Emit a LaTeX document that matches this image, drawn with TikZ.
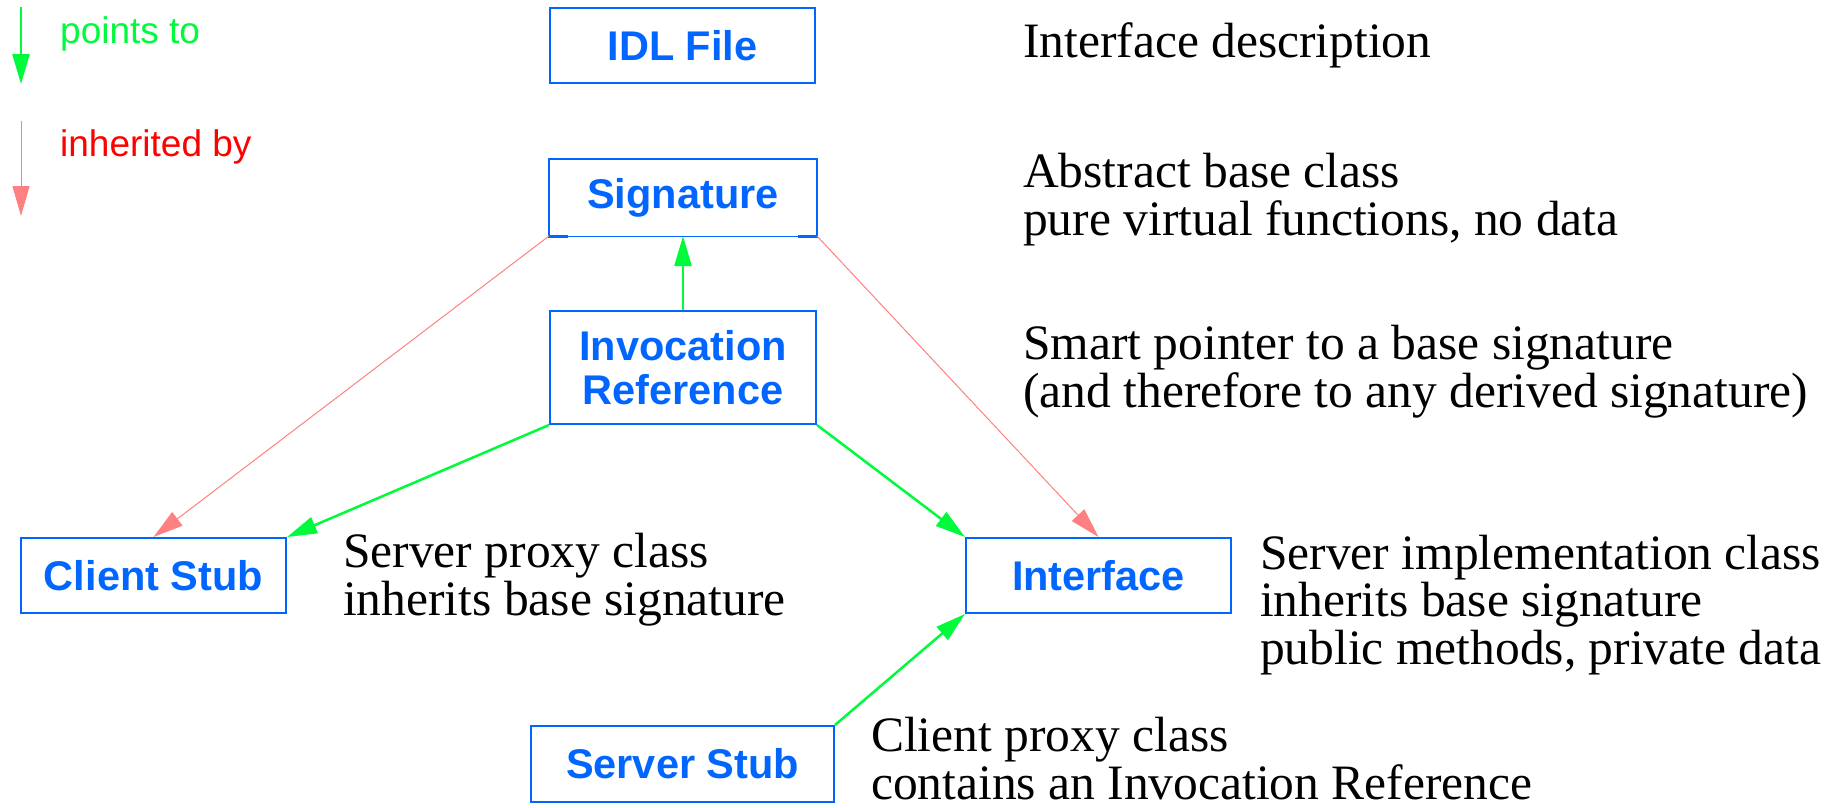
\documentclass[tikz,border=0pt]{standalone}
\usepackage{fontspec}
\setmainfont{Liberation Serif}
\newfontfamily\boxfont{Liberation Sans}
\usetikzlibrary{arrows.meta}
\definecolor{boxblue}{RGB}{0,102,255}
\definecolor{ptgreen}{RGB}{0,250,60}
\definecolor{inhred}{RGB}{255,128,128}
\definecolor{legred}{RGB}{255,0,0}
\tikzset{
  cls/.style={draw=boxblue, line width=2pt, text=boxblue, font=\boxfont\bfseries\fontsize{41.5}{45}\selectfont, align=center, inner sep=0pt},
  desc/.style={anchor=base west, inner sep=0pt, font=\fontsize{49.5}{47.5}\selectfont, align=left},
  ptarrow/.style={draw=ptgreen, line width=2.5pt, -{Triangle[length=30pt,width=17pt,fill=ptgreen]}},
  inharrow/.style={draw=inhred, line width=1pt, -{Triangle[length=30pt,width=17pt,fill=inhred]}},
  legtext/.style={anchor=base west, inner sep=0pt, font=\boxfont\fontsize{37}{40}\selectfont}
}
\begin{document}
\begin{tikzpicture}[x=1pt,y=-1pt]
\useasboundingbox (0,0) rectangle (1844,807);
% legend
\coordinate (g1) at (21,7);
\coordinate (g2) at (21,84);
\draw[ptarrow] (g1) -- (g2);
\node[legtext, text=ptgreen] (lg) at (60,43) {points to};
\coordinate (r1) at (21,121);
\coordinate (r2) at (21,216);
\draw[inharrow] (r1) -- (r2);
\node[legtext, text=legred] (lr) at (60,156) {inherited by};
% boxes
\node[cls, minimum width=265pt, minimum height=75pt] (idl) at (682.5,45.5) {IDL File};
\node[cls, draw=none, minimum width=266pt, minimum height=75pt] (sig) at (683,197.5) {Signature};
\draw[boxblue, line width=2pt] (sig.south west) -- (sig.north west) -- (sig.north east) -- (sig.south east);
\draw[boxblue, line width=3pt] ([xshift=-1pt]sig.south west) -- ++(20,0);
\draw[boxblue, line width=3pt] ([xshift=1pt]sig.south east) -- ++(-20,0);
\draw[boxblue, line width=1pt] (sig.south west) -- (sig.south east);
\node[cls, minimum width=266pt, minimum height=113pt, font=\boxfont\bfseries\fontsize{41.5}{44}\selectfont] (inv) at (683,367.5) {Invocation\\Reference};
\node[cls, minimum width=265pt, minimum height=75pt] (client) at (153.5,575.5) {Client Stub};
\node[cls, minimum width=265pt, minimum height=75pt] (iface) at (1098.5,575.5) {Interface};
\node[cls, minimum width=303pt, minimum height=76pt] (server) at (682.5,764) {Server Stub};
% connectors
\draw[inharrow] (sig.south west) -- (client.north);
\draw[inharrow] (sig.south east) -- (iface.north);
\draw[ptarrow] (inv.north) -- (sig.south);
\draw[ptarrow] (inv.south west) -- (client.north east);
\draw[ptarrow] (inv.south east) -- (iface.north west);
\draw[ptarrow] (server.north east) -- (iface.south west);
% descriptions (base anchor = baseline of last line)
\node[desc] (d1) at (1023,57) {Interface description};
\node[desc] (d2) at (1023,235) {Abstract base class\\pure virtual functions, no data};
\node[desc] (d3) at (1023,407) {Smart pointer to a base signature\\(and therefore to any derived signature)};
\node[desc] (d4) at (343,615) {Server proxy class\\inherits base signature};
\node[desc] (d5) at (1260,664) {Server implementation class\\inherits base signature\\public methods, private data};
\node[desc] (d6) at (871,799) {Client proxy class\\contains an Invocation Reference};
\end{tikzpicture}
\end{document}
